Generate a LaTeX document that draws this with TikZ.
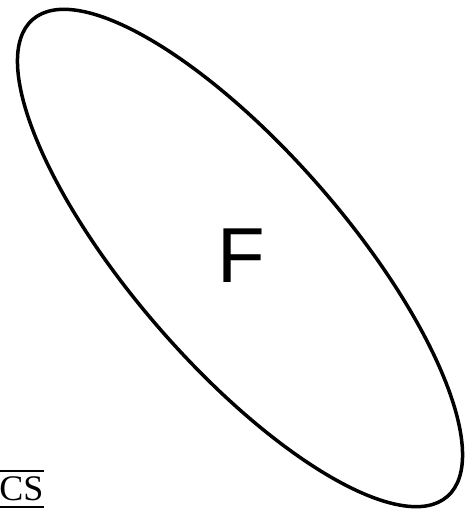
\documentclass[tikz,border=0pt]{standalone}
\usepackage{fontspec}
\setmainfont{Liberation Serif}
\newfontfamily\helv{Liberation Sans}
\tikzset{
  outline/.style={line width=3.5pt, black},
  biglabel/.style={font=\helv\fontsize{78}{78}\selectfont, inner sep=0pt},
  cslabel/.style={font=\fontsize{36}{36}\selectfont, inner sep=0pt, anchor=base east},
  rule/.style={line width=2pt, black}
}
\begin{document}
\begin{tikzpicture}[x=1pt,y=1pt]
\useasboundingbox (0,0) rectangle (472,514);
\coordinate (c) at (240,256);
\draw[outline, rotate around={-49:(c)}] (c) ellipse [x radius=316, y radius=107];
\node[biglabel] (f) at (241,258) {F};
\node[cslabel] (cs) at (43.5,13) {CS};
\draw[rule] (0,42.5) -- (43.5,42.5);
\draw[rule] (0,7) -- (43.5,7);
\end{tikzpicture}
\end{document}
